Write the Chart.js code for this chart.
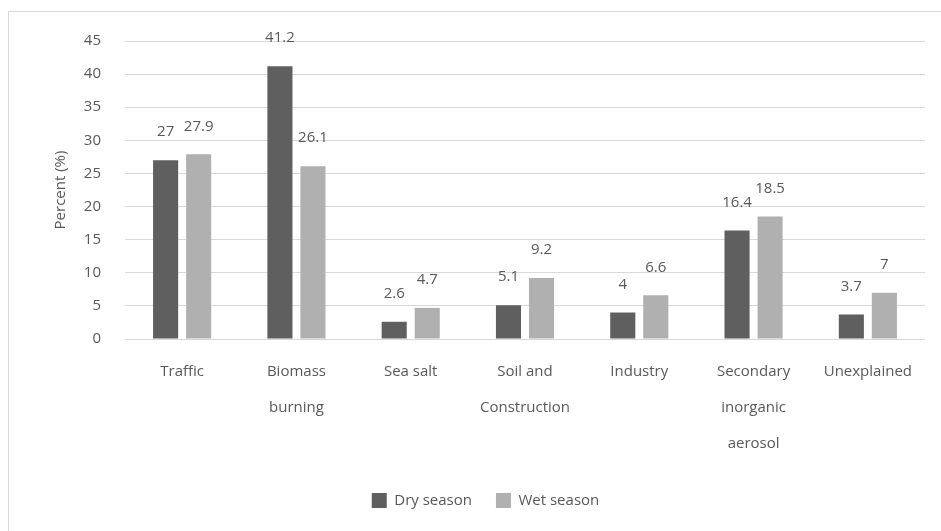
<!DOCTYPE html>
<html>
<head>
<meta charset="utf-8">
<script src="https://cdn.jsdelivr.net/npm/chart.js@4.4.0/dist/chart.umd.min.js"></script>
<style>
  html, body { margin: 0; padding: 0; background: #fff; }
  #wrap { position: relative; width: 941px; height: 531px; }
</style>
</head>
<body>
<div id="wrap"><canvas id="chart" width="941" height="531"></canvas></div>
<script>
var categories = [
  'Traffic',
  ['Biomass', 'burning'],
  'Sea salt',
  ['Soil and', 'Construction'],
  'Industry',
  ['Secondary', 'inorganic', 'aerosol'],
  'Unexplained'
];
var drySeason = [27, 41.2, 2.6, 5.1, 4, 16.4, 3.7];
var wetSeason = [27.9, 26.1, 4.7, 9.2, 6.6, 18.5, 7];
var yTicks = [0, 5, 10, 15, 20, 25, 30, 35, 40, 45];

var textColor = '#595959';
var fontFamily = "'Open Sans', 'Noto Sans', sans-serif";

// frame line around the chart
var framePlugin = {
  id: 'frame',
  beforeDraw: function(chart) {
    var c = chart.ctx;
    c.save();
    c.strokeStyle = '#d9d9d9';
    c.lineWidth = 1;
    c.strokeRect(8.5, 11.5, 1000, 1000);
    c.restore();
  }
};

// nudge the legend a bit to the right, like the original
var legendShift = {
  id: 'legendShift',
  afterLayout: function(chart) {
    if (chart.legend) {
      chart.legend.left += 23;
      chart.legend.right += 23;
    }
  }
};

// value labels above each bar
var valueLabels = {
  id: 'valueLabels',
  afterDatasetsDraw: function(chart) {
    var c = chart.ctx;
    c.save();
    c.font = '15px ' + fontFamily;
    c.fillStyle = textColor;
    c.textAlign = 'center';
    c.textBaseline = 'middle';
    chart.data.datasets.forEach(function(ds, i) {
      chart.getDatasetMeta(i).data.forEach(function(bar, j) {
        c.fillText(String(ds.data[j]), bar.x, bar.y - 28);
      });
    });
    c.restore();
  }
};

var ctx = document.getElementById('chart');
new Chart(ctx, {
  type: 'bar',
  data: {
    labels: categories,
    datasets: [
      {
        label: 'Dry season',
        data: drySeason,
        backgroundColor: '#5f5f5f',
        categoryPercentage: 0.578,
        barPercentage: 0.76
      },
      {
        label: 'Wet season',
        data: wetSeason,
        backgroundColor: '#b0b0b0',
        categoryPercentage: 0.578,
        barPercentage: 0.76
      }
    ]
  },
  options: {
    responsive: false,
    animation: false,
    layout: { padding: { left: 0, right: 16, top: 41, bottom: 13 } },
    plugins: {
      legend: {
        position: 'bottom',
        labels: {
          color: textColor,
          font: { family: fontFamily, size: 15 },
          boxWidth: 15,
          boxHeight: 15,
          padding: 24
        }
      },
      tooltip: { enabled: false }
    },
    scales: {
      x: {
        grid: { display: false },
        border: { display: false },
        ticks: {
          color: textColor,
          font: { family: fontFamily, size: 15, lineHeight: 2.4 },
          padding: 7,
          maxRotation: 0,
          autoSkip: false
        },
        afterFit: function(s) { s.height = 130; }
      },
      y: {
        min: 0,
        max: 45,
        afterBuildTicks: function(s) {
          s.ticks = yTicks.map(function(v) { return { value: v }; });
        },
        grid: { color: '#d9d9d9', lineWidth: 1, drawTicks: false },
        border: { display: false },
        ticks: {
          color: textColor,
          font: { family: fontFamily, size: 15 },
          padding: 24
        },
        title: {
          display: true,
          text: 'Percent (%)',
          color: textColor,
          font: { family: fontFamily, size: 15 },
          padding: { top: 52, bottom: 0 }
        },
        afterFit: function(s) { s.width = 125; }
      }
    }
  },
  plugins: [framePlugin, legendShift, valueLabels]
});
</script>
</body>
</html>
